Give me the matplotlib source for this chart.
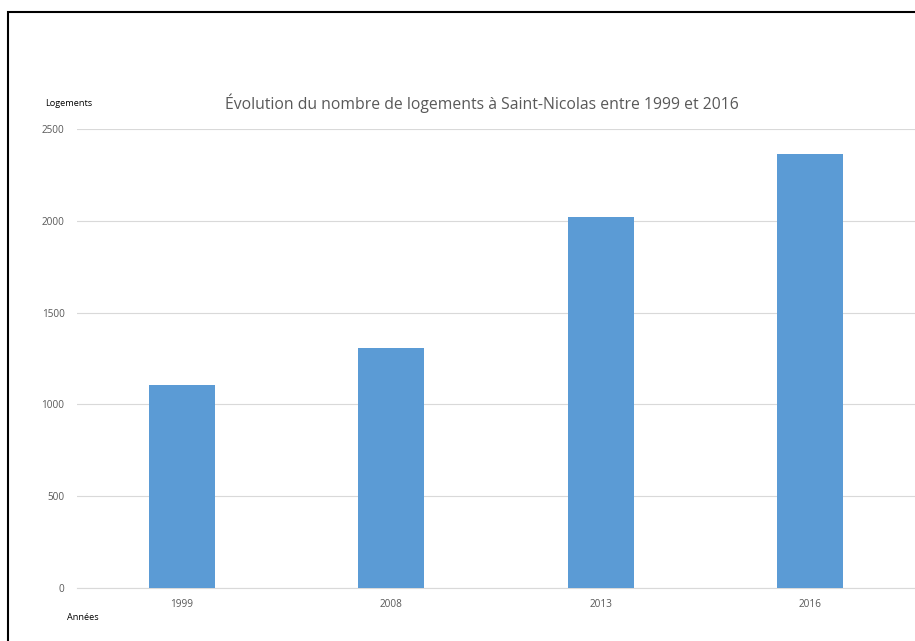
import matplotlib
matplotlib.use("Agg")
import matplotlib.pyplot as plt
from matplotlib.patches import Rectangle

annees = ["1999", "2008", "2013", "2016"]
logements = [1104, 1307, 2019, 2362]
y_ticks = [0, 500, 1000, 1500, 2000, 2500]

W, H = 915, 641
fig = plt.figure(figsize=(W / 100, H / 100), dpi=100)
plt.rcParams["font.family"] = ["Open Sans", "DejaVu Sans"]

ax = fig.add_axes([77 / W, (H - 588) / H, (915 - 77) / W, (588 - 129) / H])
x = range(len(annees))
ax.bar(x, logements, width=0.315, color="#5B9BD5", zorder=3)
ax.set_xlim(-0.5, len(annees) - 0.5)
ax.set_ylim(0, 2500)
ax.set_yticks(y_ticks)
ax.set_yticklabels([str(v) for v in y_ticks], fontsize=7.2, color="#595959")
ax.set_xticks(list(x))
ax.set_xticklabels(annees, fontsize=7.2, color="#595959")
ax.tick_params(axis="y", length=0, pad=9)
ax.tick_params(axis="x", length=0, pad=8)
ax.grid(axis="y", color="#D9D9D9", linewidth=0.8, zorder=0)
for s in ["top", "right", "left"]:
    ax.spines[s].set_visible(False)
ax.spines["bottom"].set_color("#D9D9D9")
ax.spines["bottom"].set_linewidth(0.8)

fig.text(482 / W, 1 - 103 / H, "Évolution du nombre de logements à Saint-Nicolas entre 1999 et 2016",
         ha="center", va="center", fontsize=11.3, color="#595959")
fig.text(45 / W, 1 - 103 / H, "Logements", ha="left", va="center", fontsize=6.6, color="#000000")
fig.text(67 / W, 1 - 618 / H, "Années", ha="left", va="center", fontsize=6.6, color="#000000")

# cadre noir (coupé à droite et en bas)
fig.patches.append(Rectangle((8 / W, -0.1), 1.2, 1.1 - 12 / H, transform=fig.transFigure,
                             fill=False, edgecolor="black", linewidth=1.5, clip_on=False))

fig.savefig("out.png", dpi=100)
